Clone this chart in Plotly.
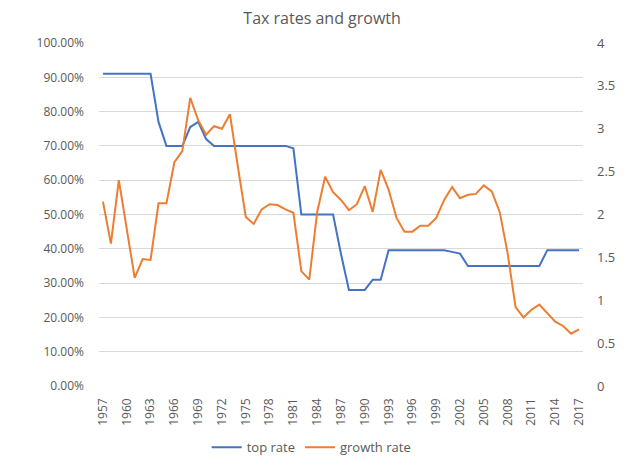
import plotly.graph_objs as go

# Data
years = list(range(1957, 2018))

top_rate = [0.91, 0.91, 0.91, 0.91, 0.91, 0.91, 0.91,       # 1957-1963
            0.77, 0.70, 0.70, 0.70, 0.755, 0.77, 0.72,       # 1964-1970
            0.70, 0.70, 0.70, 0.70, 0.70, 0.70, 0.70, 0.70,  # 1971-1978
            0.70, 0.70, 0.693,                               # 1979-1981
            0.50, 0.50, 0.50, 0.50, 0.50, 0.385,             # 1982-1987
            0.28, 0.28, 0.28, 0.31, 0.31,                    # 1988-1992
            0.396, 0.396, 0.396, 0.396, 0.396, 0.396, 0.396, 0.396,  # 1993-2000
            0.391, 0.386,                                    # 2001-2002
            0.35, 0.35, 0.35, 0.35, 0.35, 0.35, 0.35, 0.35, 0.35, 0.35,  # 2003-2012
            0.396, 0.396, 0.396, 0.396, 0.396]               # 2013-2017

growth_rate = [2.15, 1.66, 2.40, 1.82, 1.26, 1.48, 1.47,     # 1957-1963
               2.13, 2.13, 2.61, 2.74, 3.36, 3.10, 2.93,     # 1964-1970
               3.03, 3.00, 3.17, 2.56, 1.97, 1.89, 2.06, 2.12,  # 1971-1978
               2.11, 2.06, 2.02,                             # 1979-1981
               1.34, 1.24, 2.03, 2.44, 2.26, 2.17,           # 1982-1987
               2.05, 2.12, 2.33, 2.03, 2.52,                 # 1988-1992
               2.29, 1.96, 1.80, 1.80, 1.87, 1.87, 1.96, 2.17,  # 1993-2000
               2.32, 2.19,                                   # 2001-2002
               2.23, 2.24, 2.34, 2.27, 2.03, 1.55, 0.92, 0.80, 0.89, 0.95,  # 2003-2012
               0.85, 0.75, 0.70, 0.61, 0.66]                 # 2013-2017

year_ticks = years[::3]

grey = '#595959'
font = 'Open Sans, Lato, sans-serif'

data = [
    go.Scatter(x=years, y=top_rate, mode='lines', name='top rate',
               line=dict(color='#4472C4', width=2)),
    go.Scatter(x=years, y=growth_rate, mode='lines', name='growth rate',
               line=dict(color='#ED7D31', width=2), yaxis='y2'),
]

# the page body adds an 8px offset, margins below allow for it
layout = go.Layout(
    title=dict(text='Tax rates and growth', x=0.49, xanchor='center', xref='container',
               y=0.977, yanchor='middle', yref='container',
               font=dict(size=16, color=grey, family=font)),
    width=641, height=457,
    margin=dict(l=91, r=66, t=35, b=79),
    paper_bgcolor='white', plot_bgcolor='white',
    font=dict(family=font, color=grey, size=12),
    xaxis=dict(range=[1956.5, 2017.5], tickvals=year_ticks, ticktext=[str(y) for y in year_ticks],
               tickangle=-90, showgrid=False, zeroline=False, showline=False, automargin=False,
               tickfont=dict(size=12, color=grey), ticklen=0, ticklabelstandoff=9),
    yaxis=dict(range=[0, 1], dtick=0.1, tickformat='.2%', showgrid=True, gridcolor='#D9D9D9',
               gridwidth=1, zeroline=False, automargin=False, tickfont=dict(size=12, color=grey),
               ticklen=0, ticklabelstandoff=14),
    yaxis2=dict(range=[0, 4], dtick=0.5, overlaying='y', side='right', showgrid=False,
                zeroline=False, automargin=False, tickfont=dict(size=13, color=grey),
                ticklen=0, ticklabelstandoff=13),
    legend=dict(orientation='h', x=0.473, xref='container', xanchor='center',
                y=0.039, yref='container', yanchor='middle',
                font=dict(size=13, color=grey), itemwidth=30),
    showlegend=True,
)

fig = go.Figure(data=data, layout=layout)
fig.write_html('out.html')
